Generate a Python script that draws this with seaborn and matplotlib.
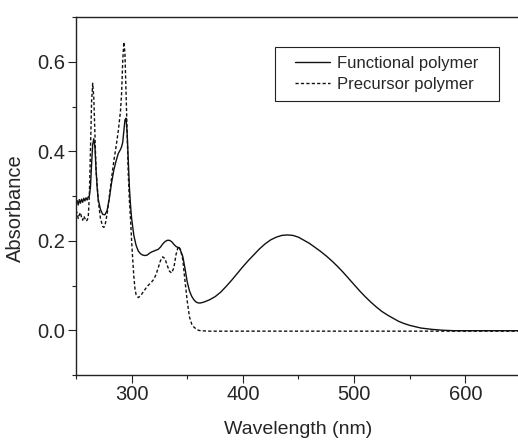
import pandas as pd
import seaborn as sns
import matplotlib.pyplot as plt
from matplotlib.patches import Rectangle
from matplotlib.ticker import MultipleLocator


# wavelength (nm) / absorbance
func_nm = [250, 251, 252, 253, 254, 255, 256, 257, 258, 259, 260, 261, 262, 263, 264, 265, 266, 267, 268, 269,
           270, 272, 274, 276, 278, 280, 282, 284, 286, 288, 290, 291, 292, 293, 294, 295, 296, 297, 298, 299,
           300, 302, 304, 306, 308, 310, 312, 314, 316, 318, 320, 322, 324, 326, 328, 330, 332, 334, 336, 338,
           340, 342, 343, 344, 346, 348, 350, 352, 354, 356, 358, 360, 362, 365, 370, 375, 380, 385, 390, 395,
           400, 405, 410, 415, 420, 425, 430, 435, 440, 445, 450, 455, 460, 465, 470, 475, 480, 485, 490, 495,
           500, 505, 510, 515, 520, 525, 530, 535, 540, 545, 550, 555, 560, 570, 580, 590, 600, 620, 650]
func_abs = [0.282, 0.290, 0.280, 0.292, 0.284, 0.293, 0.286, 0.295, 0.289, 0.296, 0.291, 0.298, 0.300, 0.320,
            0.370, 0.415, 0.428, 0.410, 0.360, 0.320, 0.292, 0.270, 0.259, 0.258, 0.268, 0.295, 0.330, 0.358,
            0.378, 0.395, 0.404, 0.410, 0.420, 0.445, 0.470, 0.474, 0.440, 0.380, 0.320, 0.280, 0.250, 0.212,
            0.190, 0.177, 0.171, 0.168, 0.167, 0.168, 0.172, 0.175, 0.177, 0.179, 0.181, 0.186, 0.193, 0.198,
            0.201, 0.201, 0.198, 0.192, 0.187, 0.185, 0.183, 0.178, 0.165, 0.138, 0.108, 0.088, 0.076, 0.068,
            0.063, 0.061, 0.061, 0.063, 0.068, 0.075, 0.085, 0.098, 0.112, 0.127, 0.142, 0.156, 0.169, 0.182,
            0.193, 0.202, 0.208, 0.212, 0.213, 0.212, 0.208, 0.201, 0.194, 0.185, 0.176, 0.166, 0.155, 0.143,
            0.130, 0.116, 0.102, 0.088, 0.075, 0.063, 0.052, 0.042, 0.034, 0.027, 0.020, 0.015, 0.011, 0.008,
            0.005, 0.002, 0.000, -0.001, -0.001, -0.001, -0.001]

prec_nm = [250, 251, 252, 253, 254, 255, 256, 257, 258, 259, 260, 261, 262, 263, 264, 265, 266, 267, 268, 270,
           272, 274, 275, 276, 278, 280, 282, 284, 286, 288, 290, 291, 292, 293, 294, 295, 296, 297, 298, 299,
           300, 301, 302, 303, 304, 306, 308, 310, 312, 314, 316, 318, 320, 322, 324, 326, 328, 330, 332, 334,
           336, 338, 340, 342, 344, 346, 348, 350, 352, 354, 356, 358, 360, 362, 370, 650]
prec_abs = [0.268, 0.262, 0.250, 0.258, 0.263, 0.252, 0.246, 0.255, 0.250, 0.244, 0.246, 0.252, 0.300, 0.400,
            0.510, 0.552, 0.520, 0.440, 0.360, 0.290, 0.250, 0.232, 0.230, 0.233, 0.260, 0.300, 0.340, 0.378,
            0.410, 0.445, 0.490, 0.530, 0.600, 0.644, 0.620, 0.530, 0.440, 0.350, 0.290, 0.250, 0.200, 0.158,
            0.120, 0.093, 0.080, 0.073, 0.077, 0.084, 0.091, 0.098, 0.103, 0.108, 0.114, 0.125, 0.140, 0.156,
            0.164, 0.160, 0.145, 0.132, 0.128, 0.140, 0.170, 0.188, 0.180, 0.158, 0.110, 0.065, 0.030, 0.014,
            0.007, 0.003, 0.000, -0.001, -0.002, -0.002]

names = ['Functional polymer', 'Precursor polymer']

sns.set_style('ticks')
plt.rcParams['font.family'] = ['Liberation Sans', 'DejaVu Sans']

fig = plt.figure(figsize=(5.18, 4.40), dpi=100)
ax = fig.add_axes([0.1467, 0.1477, 0.859, 0.8136])

df_f = pd.DataFrame({'nm': func_nm, 'A': func_abs})
df_p = pd.DataFrame({'nm': prec_nm, 'A': prec_abs})
sns.lineplot(data=df_f, x='nm', y='A', ax=ax, color='#111111', lw=1.0, label=names[0], errorbar=None)
sns.lineplot(data=df_p, x='nm', y='A', ax=ax, color='#111111', lw=1.0, linestyle=(0, (2.3, 1.6)),
             label=names[1], errorbar=None)

ax.set_xlim(250, 650)
ax.set_ylim(-0.1, 0.7)
ax.set_xticks([300, 400, 500, 600])
ax.set_yticks([0.0, 0.2, 0.4, 0.6])
ax.set_yticklabels(['0.0', '0.2', '0.4', '0.6'])
ax.xaxis.set_minor_locator(MultipleLocator(50))
ax.yaxis.set_minor_locator(MultipleLocator(0.1))
ax.tick_params(which='major', direction='out', length=5.5, width=0.8, labelsize=14.5, pad=2, color='#222222')
ax.tick_params(which='minor', direction='out', length=3, width=0.8, color='#222222')
for s in ['left', 'top', 'bottom']:
    ax.spines[s].set_color('#222222')
    ax.spines[s].set_linewidth(1.0)
ax.spines['right'].set_visible(False)

ax.set_xlabel('Wavelength (nm)', fontsize=14)
ax.set_ylabel('Absorbance', fontsize=14.5)
ax.xaxis.set_label_coords(0.5, -0.128)
ax.yaxis.set_label_coords(-0.115, 0.466)

leg = ax.legend(loc='center', bbox_to_anchor=(0.699, 0.841), frameon=False, fontsize=12,
                handlelength=2.1, handletextpad=0.4, labelspacing=0.35)
ax.add_patch(Rectangle((0.447, 0.765), 0.504, 0.151, transform=ax.transAxes, fill=False,
                       lw=0.8, edgecolor='#222222', clip_on=False))

fig.savefig('out.png', dpi=100)
